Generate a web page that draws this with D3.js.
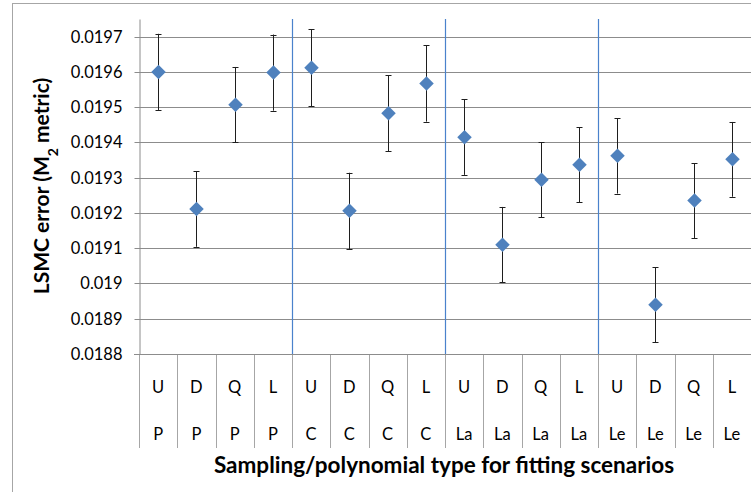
<!DOCTYPE html>
<html>
<head>
<meta charset="utf-8">
<script src="https://cdn.jsdelivr.net/npm/d3@7/dist/d3.min.js"></script>
<style>
  html, body { margin: 0; padding: 0; background: #fff; }
  svg { display: block; }
  text { font-family: Lato, "Open Sans", sans-serif; fill: #000; }
</style>
</head>
<body>
<svg id="chart" width="751" height="492"></svg>
<script>
// Fitting scenarios: sampling type (first row) and polynomial type (second row)
const samplingLabels   = ["U","D","Q","L","U","D","Q","L","U","D","Q","L","U","D","Q","L"];
const polynomialLabels = ["P","P","P","P","C","C","C","C","La","La","La","La","Le","Le","Le","Le"];

// Mean LSMC error (M2 metric) and half-width of its error bar
const errorMeans = [0.019600, 0.019211, 0.019507, 0.019598,
                    0.019612, 0.019206, 0.019483, 0.019567,
                    0.019415, 0.019110, 0.019294, 0.019337,
                    0.019362, 0.018940, 0.019235, 0.019352];
const errorHalfWidths = [0.000108, 0.000107, 0.000107, 0.000108,
                         0.000109, 0.000108, 0.000108, 0.000108,
                         0.000107, 0.000107, 0.000106, 0.000106,
                         0.000107, 0.000106, 0.000106, 0.000106];

const yTickValues = [0.0188, 0.0189, 0.0190, 0.0191, 0.0192, 0.0193, 0.0194, 0.0195, 0.0196, 0.0197];
const yTickLabels = ["0.0188","0.0189","0.019","0.0191","0.0192","0.0193","0.0194","0.0195","0.0196","0.0197"];

const svg = d3.select("#chart");
const plot = { left: 139, right: 751, top: 19, bottom: 354 };

// outer chart border
svg.append("rect")
  .attr("x", 12.5).attr("y", 3.5)
  .attr("width", 760).attr("height", 500)
  .attr("fill", "none").attr("stroke", "#a6a6a6").attr("stroke-width", 1);

const x = d3.scaleBand()
  .domain(d3.range(samplingLabels.length))
  .range([plot.left, plot.right])
  .padding(0);

const y = d3.scaleLinear()
  .domain([0.0188, 0.01975])
  .range([plot.bottom, plot.top]);

const snap = v => Math.round(v) + 0.5;

// horizontal gridlines
svg.append("g").selectAll("line")
  .data(yTickValues)
  .join("line")
  .attr("x1", plot.left).attr("x2", plot.right)
  .attr("y1", d => snap(y(d))).attr("y2", d => snap(y(d)))
  .attr("stroke", "#8c8c8c").attr("stroke-width", 1);

// value axis
const yAxis = d3.axisLeft(y)
  .tickValues(yTickValues)
  .tickFormat((d, i) => yTickLabels[i])
  .tickSizeInner(5)
  .tickSizeOuter(0)
  .tickPadding(12);

const yAxisG = svg.append("g")
  .attr("transform", `translate(${snap(plot.left)},0)`)
  .call(yAxis);
yAxisG.select(".domain").attr("stroke", "#8c8c8c");
yAxisG.selectAll(".tick line").attr("stroke", "#8c8c8c");
yAxisG.selectAll(".tick").attr("transform", d => `translate(0,${snap(y(d))})`);
yAxisG.selectAll(".tick text")
  .style("font-family", "Lato, 'Open Sans', sans-serif")
  .style("font-size", "16.5px")
  .attr("fill", "#000")
  .attr("dy", "0.35em");

// category axis: separators between scenarios below the plot
const boundaries = d3.range(samplingLabels.length + 1).map(i =>
  i < samplingLabels.length ? x(i) : x(i - 1) + x.bandwidth());

svg.append("g").selectAll("line")
  .data(boundaries)
  .join("line")
  .attr("x1", d => snap(d)).attr("x2", d => snap(d))
  .attr("y1", plot.bottom).attr("y2", 448)
  .attr("stroke", "#a6a6a6").attr("stroke-width", 1);

// group separators between polynomial families
const groupStarts = d3.range(1, samplingLabels.length)
  .filter(i => polynomialLabels[i] !== polynomialLabels[i - 1]);
svg.append("g").selectAll("line")
  .data(groupStarts)
  .join("line")
  .attr("x1", i => snap(x(i))).attr("x2", i => snap(x(i)))
  .attr("y1", plot.top).attr("y2", snap(plot.bottom) - 0.5)
  .attr("stroke", "#4a82cc").attr("stroke-width", 1.2);

// bottom axis line
svg.append("line")
  .attr("x1", plot.left - 5).attr("x2", plot.right)
  .attr("y1", snap(y(0.0188))).attr("y2", snap(y(0.0188)))
  .attr("stroke", "#8c8c8c").attr("stroke-width", 1);

// category labels (two rows)
const catG = svg.append("g").style("font-size", "16.5px");
catG.selectAll("text.row1")
  .data(samplingLabels)
  .join("text")
  .attr("class", "row1")
  .attr("x", (d, i) => x(i) + x.bandwidth() / 2)
  .attr("y", 387.5)
  .attr("dy", "0.35em")
  .attr("text-anchor", "middle")
  .text(d => d);
catG.selectAll("text.row2")
  .data(polynomialLabels)
  .join("text")
  .attr("class", "row2")
  .attr("x", (d, i) => x(i) + x.bandwidth() / 2)
  .attr("y", 434.5)
  .attr("dy", "0.35em")
  .attr("text-anchor", "middle")
  .text(d => d);

// error bars
const capHalf = 3;
const bars = svg.append("g").attr("stroke", "#1e1e1e").attr("stroke-width", 1);
errorMeans.forEach((m, i) => {
  const cx = snap(x(i) + x.bandwidth() / 2);
  const lo = y(m - errorHalfWidths[i]);
  const hi = y(m + errorHalfWidths[i]);
  bars.append("line").attr("x1", cx).attr("x2", cx).attr("y1", hi).attr("y2", lo);
  bars.append("line").attr("x1", cx - capHalf).attr("x2", cx + capHalf).attr("y1", snap(hi)).attr("y2", snap(hi));
  bars.append("line").attr("x1", cx - capHalf).attr("x2", cx + capHalf).attr("y1", snap(lo)).attr("y2", snap(lo));
});

// diamond markers
const diamond = d3.symbol().type(d3.symbolSquare).size(105);
svg.append("g").selectAll("path")
  .data(errorMeans)
  .join("path")
  .attr("d", diamond)
  .attr("transform", (d, i) => `translate(${snap(x(i) + x.bandwidth() / 2)},${y(d)}) rotate(45)`)
  .attr("fill", "#4f81bd");

// axis titles
svg.append("text")
  .attr("x", 444)
  .attr("y", 473)
  .attr("text-anchor", "middle")
  .style("font-weight", "bold")
  .style("font-size", "22.5px")
  .text("Sampling/polynomial type for fitting scenarios");

const yTitle = svg.append("text")
  .attr("transform", "translate(49,186) rotate(-90)")
  .attr("text-anchor", "middle")
  .style("font-weight", "bold")
  .style("font-size", "21px");
yTitle.append("tspan").text("LSMC error (M");
yTitle.append("tspan").attr("baseline-shift", "sub").style("font-size", "14px").text("2");
yTitle.append("tspan").text(" metric)");
</script>
</body>
</html>
